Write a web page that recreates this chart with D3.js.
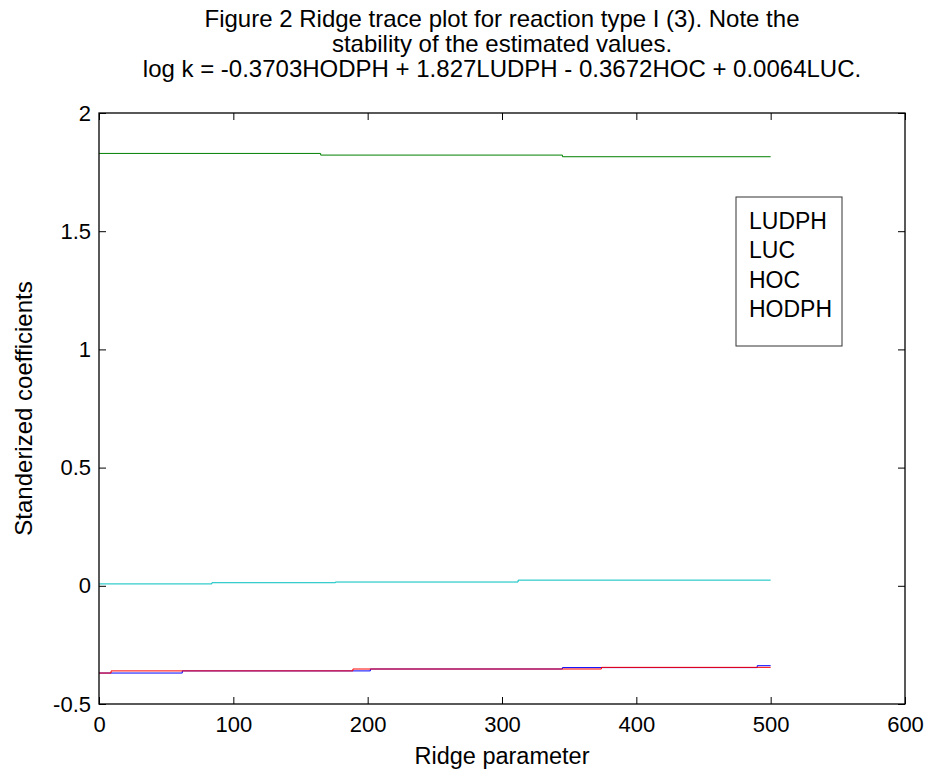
<!DOCTYPE html>
<html lang="en">
<head>
    <meta charset="UTF-8">
    <title>Ridge trace plot</title>
    <style>
        html, body {
            margin: 0;
            padding: 0;
            background-color: #ffffff;
            font-family: 'Liberation Sans', Arial, sans-serif;
        }
        svg text { fill: #000; }
    </style>
</head>
<body>
    <div id="chart"></div>
    <script src="https://d3js.org/d3.v7.min.js"></script>
    <script>
        // DATA (step breakpoints)
        const titleLines = [
            "Figure 2 Ridge trace plot for reaction type I (3). Note the",
            "stability of the estimated values.",
            "log k = -0.3703HODPH + 1.827LUDPH - 0.3672HOC + 0.0064LUC."
        ];
        const legendNames = ["LUDPH", "LUC", "HOC", "HODPH"];
        const xTicks = [0, 100, 200, 300, 400, 500, 600];
        const yTicks = [-0.5, 0, 0.5, 1, 1.5, 2];

        const hodphK = [0, 62, 202, 345, 490, 500];
        const hodphV = [-0.369, -0.360, -0.352, -0.346, -0.338, -0.338];
        const ludphK = [0, 165, 345, 500];
        const ludphV = [1.829, 1.822, 1.815, 1.815];
        const hocK = [0, 9, 189, 374, 500];
        const hocV = [-0.369, -0.360, -0.352, -0.345, -0.345];
        const lucK = [0, 84, 176, 312, 500];
        const lucV = [0.008, 0.013, 0.016, 0.024, 0.024];

        const series = [
            {k: hodphK, v: hodphV, color: "#0000ff"},
            {k: ludphK, v: ludphV, color: "#008000"},
            {k: hocK, v: hocV, color: "#ff0000"},
            {k: lucK, v: lucV, color: "#00bfbf"}
        ];

        const W = 930, H = 770;
        const margin = {top: 113, left: 99, right: 25, bottom: 66};
        const width = W - margin.left - margin.right;
        const height = H - margin.top - margin.bottom;

        const svg = d3.select("#chart")
            .append("svg")
            .attr("width", W)
            .attr("height", H);

        const x = d3.scaleLinear().domain([0, 600]).range([0, width]);
        const y = d3.scaleLinear().domain([-0.5, 2]).range([height, 0]);

        const g = svg.append("g")
            .attr("transform", `translate(${margin.left},${margin.top})`);

        // LINES
        const line = d3.line()
            .x(d => x(d[0]))
            .y(d => y(d[1]))
            .curve(d3.curveStepAfter);

        series.forEach(s => {
            g.append("path")
                .datum(s.k.map((k, i) => [k, s.v[i]]))
                .attr("fill", "none")
                .attr("stroke", s.color)
                .attr("stroke-width", 1)
                .attr("d", line);
        });

        // AXES (MATLAB style: inward ticks on all four sides)
        const tickLen = 7;
        const fontTick = 22;
        const plain = d => String(d);

        const xb = g.append("g").attr("transform", `translate(0,${height})`)
            .call(d3.axisBottom(x).tickValues(xTicks).tickSizeInner(-tickLen).tickSizeOuter(0).tickPadding(12).tickFormat(plain));
        const xt = g.append("g")
            .call(d3.axisTop(x).tickValues(xTicks).tickSizeInner(-tickLen).tickSizeOuter(0).tickFormat(""));
        const yl = g.append("g")
            .call(d3.axisLeft(y).tickValues(yTicks).tickSizeInner(-tickLen).tickSizeOuter(0).tickPadding(8).tickFormat(plain));
        const yr = g.append("g").attr("transform", `translate(${width},0)`)
            .call(d3.axisRight(y).tickValues(yTicks).tickSizeInner(-tickLen).tickSizeOuter(0).tickFormat(""));

        [xb, xt, yl, yr].forEach(a => {
            a.select(".domain").remove();
            a.selectAll("line").attr("stroke", "#000");
            a.selectAll("text")
                .style("font-family", "'Liberation Sans', Arial, sans-serif")
                .style("font-size", fontTick + "px")
                .attr("fill", "#000");
        });

        g.append("rect")
            .attr("width", width)
            .attr("height", height)
            .attr("fill", "none")
            .attr("stroke", "#000")
            .attr("stroke-width", 1.3);

        // TITLE
        svg.append("text")
            .attr("text-anchor", "middle")
            .style("font-size", "24px")
            .selectAll("tspan")
            .data(titleLines).enter()
            .append("tspan")
            .attr("x", margin.left + width / 2)
            .attr("y", (d, i) => 27 + i * 25)
            .text(d => d);

        // AXIS LABELS
        svg.append("text")
            .attr("x", margin.left + width / 2)
            .attr("y", 764)
            .attr("text-anchor", "middle")
            .style("font-size", "23.5px")
            .text("Ridge parameter");

        svg.append("text")
            .attr("transform", `translate(32,${margin.top + height / 2}) rotate(-90)`)
            .attr("text-anchor", "middle")
            .style("font-size", "24px")
            .text("Standerized coefficients");

        // LEGEND (text only, as in the figure)
        const legend = svg.append("g").attr("transform", "translate(736,197)");
        legend.append("rect")
            .attr("width", 106)
            .attr("height", 149)
            .attr("fill", "#fff")
            .attr("stroke", "#333")
            .attr("stroke-width", 1);
        legend.selectAll("text")
            .data(legendNames).enter()
            .append("text")
            .attr("x", 13)
            .attr("y", (d, i) => 32 + i * 29.4)
            .style("font-size", "23px")
            .text(d => d);
    </script>
</body>
</html>
